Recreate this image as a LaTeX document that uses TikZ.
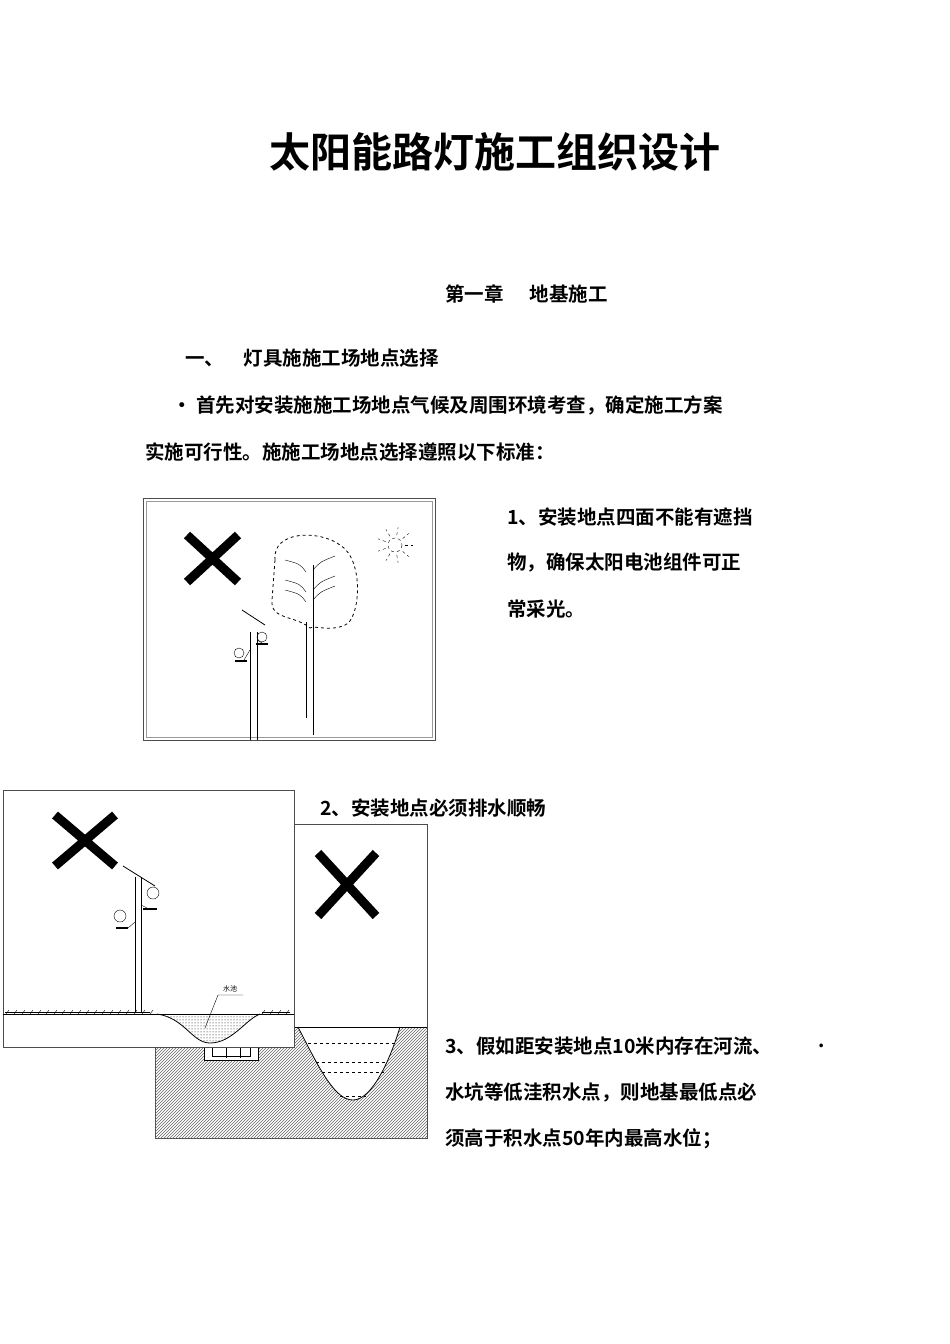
\documentclass[tikz,border=0pt]{standalone}
\usepackage{fontspec}
\setmainfont{Noto Sans CJK SC}[BoldFont={Noto Sans CJK SC Bold}]
\usetikzlibrary{patterns}
\begin{document}
\begin{tikzpicture}[x=1pt,y=-1pt,
  txt/.style={anchor=west,inner sep=0,font=\fontsize{19.5}{19.5}\selectfont\bfseries},
  bigx/.style={line width=9pt},
  frame/.style={draw=black!70,line width=1pt}]
\useasboundingbox (0,0) rectangle (950,1344);
\node[inner sep=0,font=\fontsize{41}{41}\selectfont\bfseries] (title) at (495,152) {太阳能路灯施工组织设计};
\node[txt] (ch) at (445,294) {第一章\hspace{26pt}地基施工};
\node[txt] (s1) at (185,358) {一、　灯具施施工场地点选择};
\node[txt] (p1) at (172,405) {· 首先对安装施施工场地点气候及周围环境考查，确定施工方案};
\node[txt] (p2) at (145,452) {实施可行性。施施工场地点选择遵照以下标准：};
\node[txt] (r1) at (507,517) {1、安装地点四面不能有遮挡};
\node[txt] (r2) at (507,563) {物，确保太阳电池组件可正};
\node[txt] (r3) at (507,609) {常采光。};
\node[txt] (t2) at (320,808) {2、安装地点必须排水顺畅};
\node[txt] (t3a) at (445,1046) {3、假如距安装地点10米内存在河流、};
\node[txt] (dot) at (818,1046) {.};
\node[txt] (t3b) at (445,1092) {水坑等低洼积水点，则地基最低点必};
\node[txt] (t3c) at (445,1139) {须高于积水点50年内最高水位；};

% ---- box 1
\draw[frame] (143,498) rectangle (435,740);
\draw[black!40] (146,501) rectangle (432,737);
\draw[bigx] (187,535) -- (238,582) (238,535) -- (187,582);
\draw[dashed,thick] (275,560) .. controls (272,530) and (320,530) .. (340,545)
  .. controls (365,560) and (360,620) .. (345,625) .. controls (330,632) and (315,625) .. (310,628)
  .. controls (295,615) and (270,620) .. (272,600) -- cycle;
\draw[thick] (306,622) -- (306,718) (313,565) -- (313,735);
\foreach \y in {570,590,600} {\draw (313,\y) .. controls (320,\y-8) .. (335,\y-14);
  \draw (306,\y+2) .. controls (300,\y-6) .. (285,\y-10);}
\draw[dashed] (395,545) circle (7);
\foreach \a in {0,40,...,320} \draw[dashed] (395,545) ++(\a:10) -- ++(\a:8);
\draw[thick] (250,632) -- (250,740) (257,632) -- (257,740);
\draw[thick] (242,610) -- (265,625);
\draw (262,637) circle (5) (239,653) circle (5);
\draw[line width=2pt] (256,644) -- (268,644) (235,661) -- (247,661);
\draw (250,650) -- (244,660) (257,640) -- (262,643);

% ---- box 3 (back)
\draw[frame] (155,824) rectangle (427,1138);
\begin{scope}
\clip (155,1027) rectangle (427,1138);
\fill[pattern=north east lines,pattern color=black!60] (155,1027) rectangle (427,1138);
\fill[white] (298,1027) .. controls (320,1070) and (335,1100) .. (353,1100)
  .. controls (372,1100) and (390,1060) .. (400,1027) -- cycle;
\end{scope}
\draw[thick] (155,1027) -- (427,1027);
\draw[thick] (298,1027) .. controls (320,1070) and (335,1100) .. (353,1100)
  .. controls (372,1100) and (390,1060) .. (400,1027);
\draw[thick,dashed] (308,1043) -- (396,1043) (316,1062) -- (388,1062) (322,1072) -- (384,1072) (340,1096) -- (366,1096);
\draw[bigx] (318,853) -- (376,916) (376,853) -- (318,916);
\fill[white] (204,1047) rectangle (258,1060);
\draw (204,1047) -- (204,1060) -- (258,1060) -- (258,1047) (226,1047) -- (226,1058) (240,1047) -- (240,1058) (212,1047) -- (212,1056) -- (250,1056) -- (250,1047);

% ---- box 2 (front)
\fill[white] (3,790) rectangle (294,1047);
\draw[frame] (3,790) rectangle (294,1047);
\draw[bigx] (55,815) -- (115,866) (115,815) -- (55,866);
\draw[thick] (3,1014) -- (294,1014);
\draw (5,1012) -- (150,1012) (262,1012) -- (290,1012);
\foreach \x in {6,14,...,150} \draw (\x,1014) -- (\x+3,1010);
\foreach \x in {262,270,...,288} \draw (\x,1014) -- (\x+3,1010);
\fill[pattern=dots] (157,1014) .. controls (185,1018) and (192,1043) .. (210,1043)
  .. controls (232,1043) and (245,1020) .. (260,1014) -- cycle;
\draw[thick] (157,1014) .. controls (185,1018) and (192,1043) .. (210,1043)
  .. controls (232,1043) and (245,1020) .. (260,1014);
\node[inner sep=0,font=\fontsize{7}{7}\selectfont] (pool) at (230,989) {水池};
\draw (243,995) -- (218,995) -- (205,1028);
\draw[thick] (135,877) -- (135,1013) (141,877) -- (141,1013);
\draw[thick] (123,866) -- (155,886);
\draw (153,893) circle (6) (120,916) circle (6);
\draw[line width=2pt] (143,909) -- (157,909) (116,928) -- (128,928);
\draw (135,922) -- (128,928) (141,905) -- (147,908);
\end{tikzpicture}
\end{document}
